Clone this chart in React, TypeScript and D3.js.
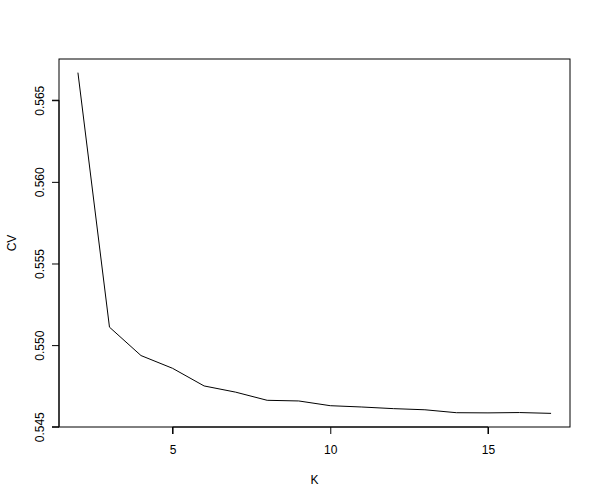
import { useEffect, useRef } from 'react';
import * as d3 from 'd3';

const kValues = [2, 3, 4, 5, 6, 7, 8, 9, 10, 11, 12, 13, 14, 15, 16, 17];
const cvValues = [
    0.56669, 0.5511, 0.54936, 0.54858, 0.5475, 0.54712, 0.54662, 0.54658, 0.54629,
    0.54621, 0.54611, 0.54604, 0.54586, 0.54585, 0.54587, 0.54582,
];
const xTicks = [5, 10, 15];
const yTicks = [0.545, 0.55, 0.555, 0.56, 0.565];

const width = 600;
const height = 500;
const margin = { top: 59, right: 30, bottom: 73, left: 59 };
const font = 'Liberation Sans, Arial, Helvetica, sans-serif';

// R style axis range: data extent padded 4% each side
function padded(vals: number[]): [number, number] {
    const [lo, hi] = d3.extent(vals) as [number, number];
    const pad = (hi - lo) * 0.04;
    return [lo - pad, hi + pad];
}

export default function App() {
    const svgRef = useRef<SVGSVGElement>(null);

    useEffect(() => {
        if (!svgRef.current) return;
        const svg = d3.select(svgRef.current);
        svg.selectAll('*').remove();

        const x = d3
            .scaleLinear()
            .domain(padded(kValues))
            .range([margin.left, width - margin.right]);
        const y = d3
            .scaleLinear()
            .domain(padded(cvValues))
            .range([height - margin.bottom, margin.top]);

        const line = d3
            .line<number>()
            .x((_d, i) => x(kValues[i]))
            .y((d) => y(d));

        svg.append('path')
            .datum(cvValues)
            .attr('d', line)
            .attr('fill', 'none')
            .attr('stroke', '#000')
            .attr('stroke-width', 1);

        // frame
        svg.append('rect')
            .attr('x', margin.left)
            .attr('y', margin.top)
            .attr('width', width - margin.left - margin.right)
            .attr('height', height - margin.top - margin.bottom)
            .attr('fill', 'none')
            .attr('stroke', '#000')
            .attr('stroke-width', 1);

        const xAxis = d3.axisBottom(x).tickValues(xTicks).tickSize(7).tickPadding(11)
            .tickFormat((d) => String(d));
        const gx = svg
            .append('g')
            .attr('transform', `translate(0, ${height - margin.bottom})`)
            .call(xAxis);
        gx.select('.domain').attr('d', `M${x(xTicks[0])},7V0H${x(xTicks[2])}V7`);
        gx.selectAll('text').attr('font-size', 12).attr('font-family', font);

        const yAxis = d3.axisLeft(y).tickValues(yTicks).tickSize(7).tickPadding(0)
            .tickFormat(d3.format('.3f'));
        const gy = svg
            .append('g')
            .attr('transform', `translate(${margin.left}, 0)`)
            .call(yAxis);
        gy.select('.domain').attr('d', `M-7,${y(yTicks[0])}H0V${y(yTicks[4])}H-7`);
        gy.selectAll('text')
            .attr('font-size', 12)
            .attr('font-family', font)
            .attr('x', 0)
            .attr('y', 0)
            .attr('dy', null)
            .attr('text-anchor', 'middle')
            .attr('transform', 'translate(-15, 0) rotate(-90)');

        svg.append('text')
            .attr('x', (margin.left + width - margin.right) / 2)
            .attr('y', 484)
            .attr('text-anchor', 'middle')
            .attr('font-size', 12)
            .attr('font-family', font)
            .text('K');

        svg.append('text')
            .attr('transform', `translate(16, ${(margin.top + height - margin.bottom) / 2}) rotate(-90)`)
            .attr('text-anchor', 'middle')
            .attr('font-size', 12)
            .attr('font-family', font)
            .text('CV');
    }, []);

    return (
        <div style={{ position: 'absolute', left: 0, top: 0 }}>
            <svg ref={svgRef} width={width} height={height} style={{ display: 'block', background: '#fff' }} />
        </div>
    );
}
